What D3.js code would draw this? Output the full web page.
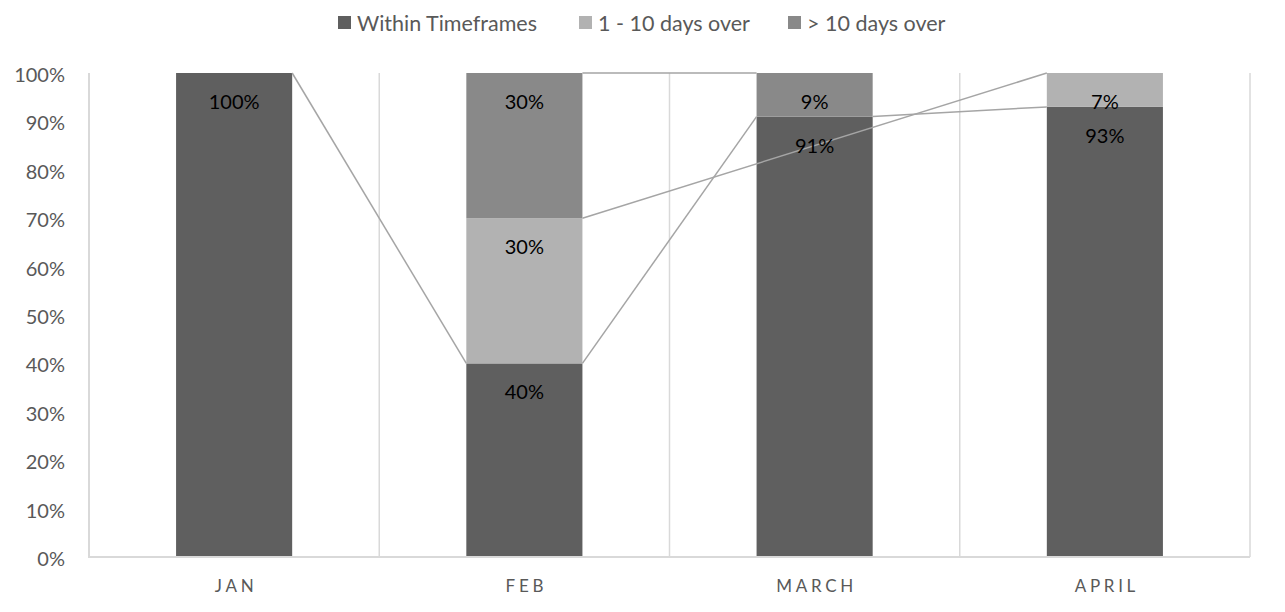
<!DOCTYPE html>
<html>
<head>
<meta charset="utf-8">
<script src="https://cdn.jsdelivr.net/npm/d3@7"></script>
<style>
  html, body { margin: 0; padding: 0; background: #fff; }
  svg { display: block; font-family: "Lato", "Open Sans", sans-serif; }
</style>
</head>
<body>
<svg id="chart" width="1285" height="612"></svg>
<script>
// ---- data ----
const categories = ["JAN", "FEB", "MARCH", "APRIL"];
const seriesNames = ["Within Timeframes", "1 - 10 days over", "> 10 days over"];
const withinTimeframes = [100, 40, 91, 93];
const days1to10Over = [null, 30, null, 7];
const daysOver10 = [null, 30, 9, null];
const yTicks = [0, 10, 20, 30, 40, 50, 60, 70, 80, 90, 100];
const seriesColors = ["#5f5f5f", "#b2b2b2", "#898989"];

const seriesValues = [withinTimeframes, days1to10Over, daysOver10];

const svg = d3.select("#chart");
const margin = { left: 89, right: 35, top: 73, bottom: 55 };
const W = 1285, H = 612;

const x = d3.scaleBand().domain(categories).range([margin.left, W - margin.right]).paddingInner(0).paddingOuter(0);
const barW = x.bandwidth() * 0.4;
const y = d3.scaleLinear().domain([0, 100]).range([H - margin.bottom, margin.top]);

// stacked data
const rows = categories.map((c, i) => {
  const r = { cat: c };
  seriesNames.forEach((s, k) => r[s] = seriesValues[k][i] == null ? 0 : seriesValues[k][i]);
  return r;
});
const stacked = d3.stack().keys(seriesNames)(rows);

// vertical gridlines at category boundaries
const bounds = categories.map(c => x(c) + x.bandwidth());
svg.append("g").selectAll("line").data(bounds).join("line")
  .attr("x1", d => d).attr("x2", d => d)
  .attr("y1", y(100)).attr("y2", y(0))
  .attr("stroke", "#d9d9d9").attr("stroke-width", 1.5);

// left axis line
svg.append("line").attr("x1", margin.left).attr("x2", margin.left)
  .attr("y1", y(100)).attr("y2", y(0)).attr("stroke", "#d9d9d9").attr("stroke-width", 2);

// bars
const barX = c => x(c) + (x.bandwidth() - barW) / 2;
stacked.forEach((layer, k) => {
  svg.append("g").selectAll("rect").data(layer.filter(d => d[1] - d[0] > 0)).join("rect")
    .attr("x", d => barX(d.data.cat))
    .attr("width", barW)
    .attr("y", d => y(d[1]))
    .attr("height", d => y(d[0]) - y(d[1]))
    .attr("fill", seriesColors[k]);
});

// bottom axis line
svg.append("line").attr("x1", margin.left - 1).attr("x2", W - margin.right)
  .attr("y1", y(0)).attr("y2", y(0)).attr("stroke", "#d9d9d9").attr("stroke-width", 2);

// series lines: connect consecutive non-null points of each series
const seriesLineG = svg.append("g");
stacked.forEach((layer, k) => {
  const pts = layer.filter((d, i) => seriesValues[k][i] != null);
  for (let j = 0; j < pts.length - 1; j++) {
    const a = pts[j], b = pts[j + 1];
    seriesLineG.append("line")
      .attr("x1", barX(a.data.cat) + barW).attr("y1", y(a[1]))
      .attr("x2", barX(b.data.cat)).attr("y2", y(b[1]))
      .attr("stroke", "#a5a5a5").attr("stroke-width", 1.5);
  }
});

// data labels (inside end)
stacked.forEach((layer, k) => {
  svg.append("g").selectAll("text").data(layer.filter((d, i) => seriesValues[k][i] != null)).join("text")
    .attr("x", d => barX(d.data.cat) + barW / 2)
    .attr("y", d => y(d[1]) + 28)
    .attr("text-anchor", "middle").attr("dominant-baseline", "central")
    .attr("font-size", 20).attr("fill", "#000")
    .text(d => (d[1] - d[0]) + "%");
});

// y axis labels
svg.append("g").selectAll("text").data(yTicks).join("text")
  .attr("x", 65).attr("y", d => y(d) + 1)
  .attr("text-anchor", "end").attr("dominant-baseline", "central")
  .attr("font-size", 20).attr("fill", "#595959")
  .text(d => d + "%");

// x axis labels
svg.append("g").selectAll("text").data(categories).join("text")
  .attr("x", d => x(d) + x.bandwidth() / 2 + 2).attr("y", 585)
  .attr("text-anchor", "middle").attr("dominant-baseline", "central")
  .attr("font-size", 17).attr("letter-spacing", "3.7px").attr("fill", "#595959")
  .text(d => d);

// legend
const legendX = [338, 579, 788];
const lg = svg.append("g");
seriesNames.forEach((s, k) => {
  lg.append("rect").attr("x", legendX[k]).attr("y", 16).attr("width", 13).attr("height", 13).attr("fill", seriesColors[k]);
  lg.append("text").attr("x", legendX[k] + 19).attr("y", 23)
    .attr("dominant-baseline", "central").attr("font-size", 21.5).attr("fill", "#595959").text(s);
});
</script>
</body>
</html>
